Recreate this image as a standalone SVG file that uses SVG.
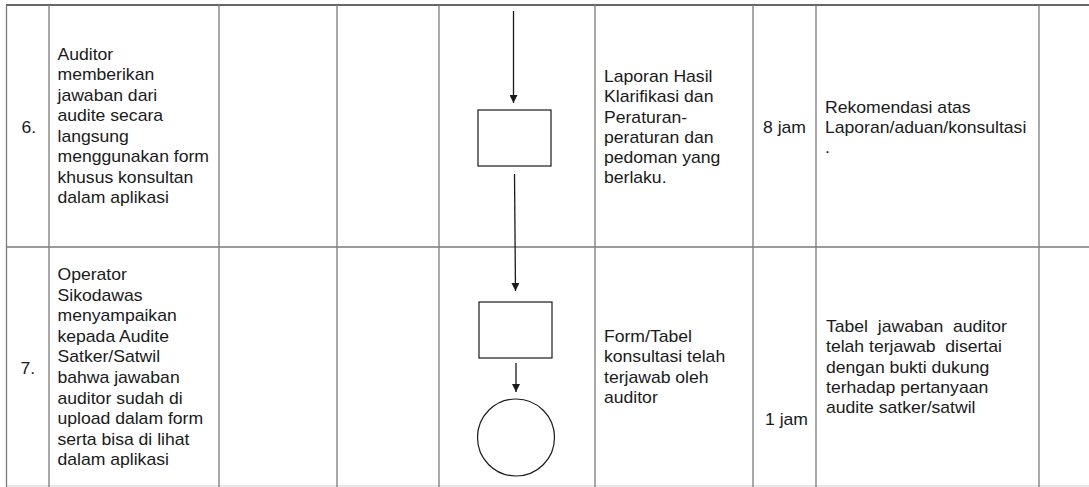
<svg xmlns="http://www.w3.org/2000/svg" width="1089" height="487" viewBox="0 0 1089 487">
<style>
.t{font-family:"Liberation Sans",Arial,sans-serif;font-size:16px;fill:#1a1a1a}
.grid{stroke:#7a7a7a;stroke-width:1.3;fill:none}
.bd{stroke:#333;stroke-width:1.3;fill:none}
.shape{fill:#fff;stroke:#1a1a1a;stroke-width:1.2}
.conn{stroke:#1a1a1a;stroke-width:1.3;fill:none}
</style>
<defs>
<marker id="ah" viewBox="0 0 10 10" refX="10" refY="5" markerWidth="8" markerHeight="8" markerUnits="userSpaceOnUse" orient="auto">
<path d="M0,0 L10,5 L0,10 z" fill="#1a1a1a"/>
</marker>
</defs>
<rect width="1089" height="487" fill="#fff"/>
<g id="table">
<line class="bd" x1="6" y1="5" x2="1089" y2="5"/>
<line class="grid" x1="6" y1="247" x2="1089" y2="247"/>
<line x1="6" y1="486" x2="1089" y2="486" stroke="#d0d0d0" stroke-width="1"/>
<line class="grid" x1="6.5" y1="5" x2="6.5" y2="487"/>
<line class="grid" x1="49" y1="5" x2="49" y2="487"/>
<line class="grid" x1="219" y1="5" x2="219" y2="487"/>
<line class="grid" x1="337" y1="5" x2="337" y2="487"/>
<line class="grid" x1="439" y1="5" x2="439" y2="487"/>
<line class="grid" x1="595" y1="5" x2="595" y2="487"/>
<line class="grid" x1="753" y1="5" x2="753" y2="487"/>
<line class="grid" x1="816" y1="5" x2="816" y2="487"/>
<line class="grid" x1="1039" y1="5" x2="1039" y2="487"/>
</g>
<g id="row6-no" transform="translate(21.5,0) scale(1.1,1)"><text class="t" x="0" y="133">6.</text></g>
<g id="row6-activity" transform="translate(57.5,0) scale(1.1,1)">
<text class="t" x="0" y="60">Auditor</text>
<text class="t" x="0" y="80.5">memberikan</text>
<text class="t" x="0" y="101">jawaban dari</text>
<text class="t" x="0" y="121.5">audite secara</text>
<text class="t" x="0" y="142">langsung</text>
<text class="t" x="0" y="162.5">menggunakan form</text>
<text class="t" x="0" y="183">khusus konsultan</text>
<text class="t" x="0" y="203.5">dalam aplikasi</text>
</g>
<g id="row6-input" transform="translate(604,0) scale(1.1,1)">
<text class="t" x="0" y="82">Laporan Hasil</text>
<text class="t" x="0" y="102.3">Klarifikasi dan</text>
<text class="t" x="0" y="122.6">Peraturan-</text>
<text class="t" x="0" y="142.9">peraturan dan</text>
<text class="t" x="0" y="163.2">pedoman yang</text>
<text class="t" x="0" y="183.5">berlaku.</text>
</g>
<g id="row6-time" transform="translate(763,0) scale(1.1,1)"><text class="t" x="0" y="133">8 jam</text></g>
<g id="row6-output" transform="translate(825,0) scale(1.1,1)">
<text class="t" x="0" y="113">Rekomendasi atas</text>
<text class="t" x="0" y="133">Laporan/aduan/konsultasi</text>
<text class="t" x="0" y="153">.</text>
</g>
<g id="row7-no" transform="translate(20.5,0) scale(1.1,1)"><text class="t" x="0" y="374">7.</text></g>
<g id="row7-activity" transform="translate(57.5,0) scale(1.1,1)">
<text class="t" x="0" y="280">Operator</text>
<text class="t" x="0" y="300.6">Sikodawas</text>
<text class="t" x="0" y="321.2">menyampaikan</text>
<text class="t" x="0" y="341.8">kepada Audite</text>
<text class="t" x="0" y="362.4">Satker/Satwil</text>
<text class="t" x="0" y="383">bahwa jawaban</text>
<text class="t" x="0" y="403.6">auditor sudah di</text>
<text class="t" x="0" y="424.2">upload dalam form</text>
<text class="t" x="0" y="444.8">serta bisa di lihat</text>
<text class="t" x="0" y="465.4">dalam aplikasi</text>
</g>
<g id="row7-input" transform="translate(604,0) scale(1.1,1)">
<text class="t" x="0" y="342">Form/Tabel</text>
<text class="t" x="0" y="362.3">konsultasi telah</text>
<text class="t" x="0" y="382.6">terjawab oleh</text>
<text class="t" x="0" y="402.9">auditor</text>
</g>
<g id="row7-time" transform="translate(765,0) scale(1.1,1)"><text class="t" x="0" y="425">1 jam</text></g>
<g id="row7-output" transform="translate(826,0) scale(1.1,1)">
<text class="t" x="0" y="332" xml:space="preserve">Tabel  jawaban  auditor</text>
<text class="t" x="0" y="352.3" xml:space="preserve">telah terjawab  disertai</text>
<text class="t" x="0" y="372.6">dengan bukti dukung</text>
<text class="t" x="0" y="392.9">terhadap pertanyaan</text>
<text class="t" x="0" y="413.2">audite satker/satwil</text>
</g>
<g id="connectors">
<line class="conn" x1="513.5" y1="11" x2="513.5" y2="103" marker-end="url(#ah)"/>
<line class="conn" x1="514.5" y1="174" x2="515.5" y2="291" marker-end="url(#ah)"/>
<line class="conn" x1="516" y1="363" x2="516" y2="392" marker-end="url(#ah)"/>
</g>
<g id="process-6"><rect class="shape" x="478" y="110" width="73" height="56"/></g>
<g id="process-7"><rect class="shape" x="479" y="302" width="73" height="56"/></g>
<g id="end-7"><circle class="shape" cx="516" cy="437.5" r="38.5"/></g>
</svg>
